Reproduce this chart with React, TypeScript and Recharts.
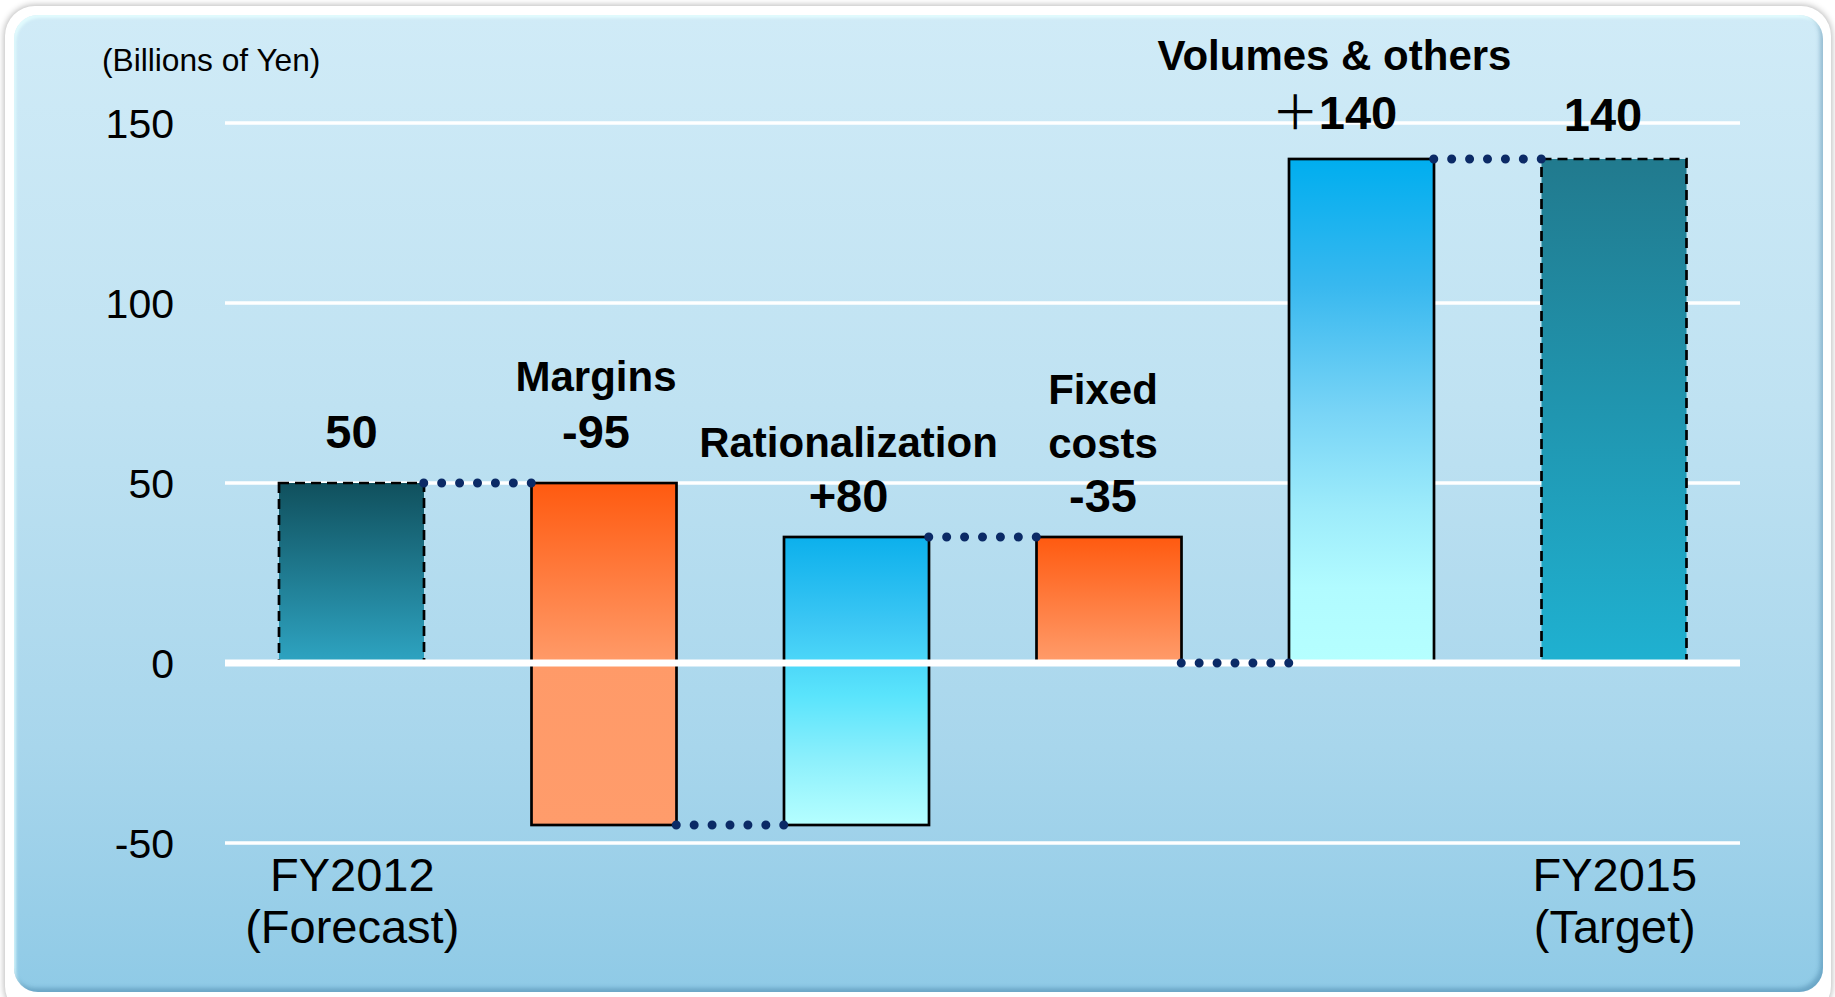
import React from 'react';
import { ComposedChart, Bar, XAxis, YAxis, CartesianGrid, ReferenceLine, Scatter } from 'recharts';

// ---------- data ----------
const categories = ['FY2012', 'Margins', 'Rationalization', 'Fixed costs', 'Volumes & others', 'FY2015'];
const changes = [50, -95, 80, -35, 140, 140];
const isTotal = [true, false, false, false, false, true];
const nameLabels: string[][] = [[], ['Margins'], ['Rationalization'], ['Fixed', 'costs'], ['Volumes & others'], []];
const valueLabels = ['50', '-95', '+80', '-35', '＋140', '140'];
const xTickLabels: string[][] = [['FY2012', '(Forecast)'], [], [], [], [], ['FY2015', '(Target)']];
const yTicks = [-50, 0, 50, 100, 150];
const yDomain = [-50, 150];
const unitLabel = '(Billions of Yen)';

// ---------- layout ----------
const W = 1835;
const H = 997;
const MARGIN = { top: 123, right: 95, bottom: 0, left: 0 };
const YAXIS_W = 225;
const XAXIS_H = 154;
const BAR_SIZE = 145;
const PLOT_W = W - MARGIN.left - MARGIN.right - YAXIS_W;
const BAND = PLOT_W / categories.length;
const LABEL_DX = [0, -8, -8, -6, -27, -11];
const LABEL_DY = [-35, -35, -25, -25, -30, -28];
const LINE_STEP = [55, 57, 55, 54, 59, 55];
const FONT = '"Liberation Sans", Arial, Helvetica, sans-serif';

let running = 0;
const data = categories.map((name, i) => {
  let lo: number, hi: number, end: number;
  if (isTotal[i]) {
    lo = 0; hi = changes[i]; end = changes[i];
  } else {
    end = running + changes[i];
    lo = Math.min(running, end);
    hi = Math.max(running, end);
  }
  running = end;
  return { name, range: [lo, hi], conn: i < categories.length - 1 ? end : null, idx: i };
});

const gradients: { id: string; stops: [number, string][] }[] = [
  { id: 'grad0', stops: [[0, '#10505d'], [1, '#2ea4c2']] },
  { id: 'grad1', stops: [[0, '#ff5a10'], [0.52, '#ff9a68'], [1, '#ff9c6b']] },
  { id: 'grad2', stops: [[0, '#0cb0ec'], [0.3, '#3cc7f4'], [0.55, '#5ae4fc'], [0.78, '#8ef0fc'], [1, '#b5ffff']] },
  { id: 'grad3', stops: [[0, '#ff5a10'], [1, '#ff9c6b']] },
  { id: 'grad4', stops: [[0, '#00aeef'], [0.25, '#38b8ef'], [0.5, '#78d4f6'], [0.7, '#9eecfb'], [0.85, '#b1fbff'], [1, '#b5ffff']] },
  { id: 'grad5', stops: [[0, '#217a8e'], [1, '#1fb1d1']] },
];

const BarShape = (props: any) => {
  const { x, y, width, height } = props;
  const i: number = props.payload?.idx ?? props.index ?? 0;
  const top = Math.min(y, y + height);
  const h = Math.abs(height);
  const cx = x + width / 2 + LABEL_DX[i];
  const baseY = top + LABEL_DY[i];
  const names = nameLabels[i];
  const val = valueLabels[i];
  const wide = val.startsWith('＋');
  return (
    <g>
      <rect
        x={x}
        y={top}
        width={width}
        height={h}
        fill={`url(#grad${i})`}
        stroke="#000"
        strokeWidth={2.7}
        strokeDasharray={isTotal[i] ? '10 6' : undefined}
      />
      {names.map((t, k) => (
        <text
          key={k}
          x={cx}
          y={baseY - LINE_STEP[i] * (names.length - k)}
          textAnchor="middle"
          fontFamily={FONT}
          fontWeight={700}
          fontSize={42}
          fill="#000"
        >
          {t}
        </text>
      ))}
      <text x={cx} y={baseY} textAnchor="middle" fontFamily={FONT} fontWeight={700} fontSize={47} fill="#000">
        {wide ? (
          <>
            <tspan fontWeight={400} fontFamily='"Noto Sans CJK JP", sans-serif'>＋</tspan>
            <tspan>{val.slice(1)}</tspan>
          </>
        ) : (
          val
        )}
      </text>
    </g>
  );
};

const ConnectorShape = (props: any) => {
  const { cx, cy, payload } = props;
  if (!payload || payload.conn == null || cx == null || cy == null) return <g />;
  const x1 = cx + BAR_SIZE / 2;
  const x2 = cx + BAND - BAR_SIZE / 2;
  return (
    <line
      x1={x1}
      x2={x2}
      y1={cy}
      y2={cy}
      stroke="#0b2a66"
      strokeWidth={9}
      strokeLinecap="round"
      strokeDasharray={`0 ${(x2 - x1) / 6}`}
    />
  );
};

const XTick = (props: any) => {
  const { x, y, index } = props;
  const lines = xTickLabels[index] || [];
  return (
    <g>
      {lines.map((t, k) => (
        <text key={k} x={x + 1} y={y + 48 + k * 52} textAnchor="middle" fontFamily={FONT} fontSize={47} fill="#000">
          {t}
        </text>
      ))}
    </g>
  );
};

export default function App() {
  return (
    <div style={{ position: 'absolute', left: 0, top: 0, width: W, height: H, overflow: 'hidden', background: '#ffffff' }}>
      <div
        style={{
          position: 'absolute',
          left: 5,
          top: 6,
          width: 1826,
          height: 1010,
          borderRadius: 30,
          background: '#ffffff',
          boxShadow: '0 0 6px 1px rgba(0,0,0,0.28)',
        }}
      />
      <div
        style={{
          position: 'absolute',
          left: 14,
          top: 15,
          width: 1809,
          height: 977,
          borderRadius: 24,
          background: 'linear-gradient(180deg, #d0ebf7 0%, #bfe2f2 40%, #a8d6ec 75%, #8fcae6 100%)',
          boxShadow: 'inset -3px -4px 4px rgba(40,100,140,0.35), inset 2px 3px 3px rgba(230,255,255,0.8)',
        }}
      />
      <svg style={{ position: 'absolute', left: 0, top: 0 }} width={420} height={100}>
        <text x={102} y={71} fontFamily={FONT} fontSize={31.7} fill="#000">
          {unitLabel}
        </text>
      </svg>
      <div style={{ position: 'absolute', left: 0, top: 0 }}>
        <ComposedChart width={W} height={H} data={data} margin={MARGIN}>
          <defs>
            {gradients.map((g) => (
              <linearGradient key={g.id} id={g.id} x1="0" y1="0" x2="0" y2="1">
                {g.stops.map(([o, c], k) => (
                  <stop key={k} offset={o} stopColor={c} />
                ))}
              </linearGradient>
            ))}
          </defs>
          <CartesianGrid vertical={false} stroke="#ffffff" strokeWidth={3.3} />
          <XAxis
            dataKey="name"
            type="category"
            height={XAXIS_H}
            axisLine={false}
            tickLine={false}
            tickSize={0}
            tickMargin={0}
            interval={0}
            tick={<XTick />}
          />
          <YAxis
            type="number"
            domain={yDomain}
            ticks={yTicks}
            width={YAXIS_W}
            axisLine={false}
            tickLine={false}
            tickSize={0}
            tickMargin={51}
            interval={0}
            tick={{ fill: '#000', fontSize: 41, fontFamily: FONT }}
          />
          <Bar dataKey="range" barSize={BAR_SIZE} isAnimationActive={false} shape={<BarShape />} />
          <ReferenceLine y={0} stroke="#ffffff" strokeWidth={7} />
          <Scatter dataKey="conn" isAnimationActive={false} shape={<ConnectorShape />} />
        </ComposedChart>
      </div>
    </div>
  );
}
